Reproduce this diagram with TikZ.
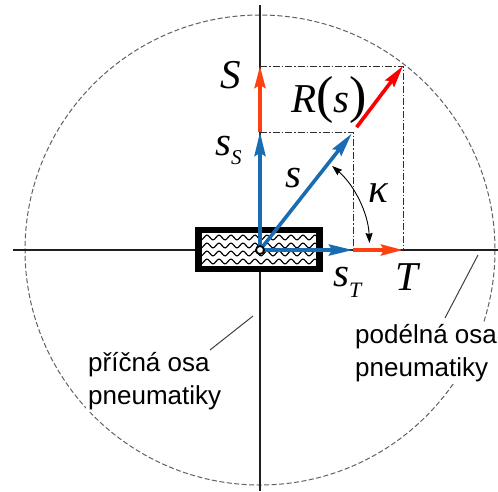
\documentclass[tikz,border=0pt]{standalone}
\usepackage{fontspec}
\setmainfont{Liberation Serif}
\newfontfamily\czsans{Liberation Sans}
\usetikzlibrary{arrows.meta}
\definecolor{vblue}{RGB}{26,108,178}
\definecolor{vorange}{RGB}{255,64,16}
\definecolor{vred}{RGB}{250,0,0}
\begin{document}
\begin{tikzpicture}[x=1pt,y=-1pt,
  axisline/.style={draw=black!88, line width=1.1pt},
  tyrecircle/.style={draw=black!62, line width=1pt, dash pattern=on 5pt off 2.5pt},
  guide/.style={draw=black!82, line width=1pt, dash pattern=on 7pt off 2pt on 1.5pt off 2pt},
  bluevec/.style={draw=vblue, line width=3.6pt, -{Stealth[length=24pt,width=11pt,inset=3pt]}},
  orangevec/.style={draw=vorange, line width=3.6pt, -{Stealth[length=22pt,width=11pt,inset=3pt]}},
  redvec/.style={draw=vred, line width=3.6pt, -{Stealth[length=22pt,width=11pt,inset=3pt]}},
  anglearrow/.style={draw=black, line width=0.9pt, {Stealth[length=10pt,width=7pt,inset=1pt]}-{Stealth[length=10pt,width=7pt,inset=1pt]}},
  mlabel/.style={inner sep=0pt, font=\fontsize{41}{41}\selectfont\itshape},
  czlabel/.style={inner sep=2pt, fill=white, align=left, font=\czsans\fontsize{26}{33}\selectfont},
  leader/.style={draw=black!75, line width=1pt}
]
\useasboundingbox (0,0) rectangle (498,491);

% named points
\coordinate (O) at (260,250);
\coordinate (Ss) at (260,132);
\coordinate (Sf) at (260,66);
\coordinate (sp) at (353,132);
\coordinate (sT) at (353,250);
\coordinate (Tf) at (403,250);
\coordinate (Rf) at (403,66);
\coordinate (axL) at (13,250);
\coordinate (axR) at (498,250);
\coordinate (axT) at (260,5);
\coordinate (axB) at (260,491);

% tyre outline circle
\draw[tyrecircle] (O) circle[radius=235];

% axes
\draw[axisline] (axL) -- (axR);
\draw[axisline] (axT) -- (axB);

% text labels (white background hides circle)
\node[czlabel, anchor=west] (pricna) at (86,381.5) {příčná osa\\pneumatiky};
\node[czlabel, anchor=west] (podelna) at (353,353.5) {podélná osa\\pneumatiky};

% leader lines
\coordinate (pl0) at (210,350);
\coordinate (pl1) at (253,316);
\coordinate (pr0) at (445,318);
\coordinate (pr1) at (478,255);
\draw[leader] (pl0) -- (pl1);
\draw[leader] (pr0) -- (pr1);

% guide rectangles
\draw[guide] (Ss) -- (sp) -- (sT);
\draw[guide] (Sf) -- (Rf) -- (Tf);

% tyre
\fill[black] (195,226.5) rectangle (323,272);
\fill[white] (202,233) rectangle (316,265.5);
\begin{scope}
  \clip (202,233) rectangle (316,265.5);
  \foreach \yy in {237.5,245.5,253.5,261.5}
    \draw[line width=1.2pt] plot[domain=0:122,samples=160,smooth] ({198+\x},{\yy+2.3*sin(\x*30)});
\end{scope}

% vectors
\draw[orangevec] (Ss) -- (Sf);
\draw[orangevec] (sT) -- (Tf);
\draw[bluevec] (O) -- (Ss);
\draw[bluevec] (O) -- (sT);
\draw[bluevec, shorten >=2pt] (O) -- (sp);
\draw[redvec, shorten <=6pt] (sp) -- (Rf);

% angle kappa
\coordinate (kA) at (332.2,166);
\coordinate (kB) at (369.5,243);
\draw[anglearrow] (kA) .. controls (354.7,185.5) and (368.2,213.4) .. (kB);

% origin marker
\node[circle, draw=black, fill=white, line width=1.8pt, minimum size=8pt, inner sep=0pt] (org) at (O) {};

% math labels
\node[mlabel, anchor=base] (lblS) at (231,88) {S};
\node[mlabel, anchor=base west] (lblsS) at (215,155) {s\raisebox{-9pt}{\fontsize{21}{21}\selectfont S}};
\node[mlabel, anchor=base west] (lblR) at (291,112) {R{\upshape\fontsize{52}{52}\selectfont(}s{\upshape\fontsize{52}{52}\selectfont)}};
\node[mlabel, anchor=base] (lbls) at (293,187) {s};
\node[mlabel, anchor=base] (lblk) at (378,202) {κ};
\node[mlabel, anchor=base west] (lblsT) at (333,286) {s\raisebox{-11pt}{\fontsize{22}{22}\selectfont T}};
\node[mlabel, anchor=base] (lblT) at (407,290) {T};
\end{tikzpicture}
\end{document}
